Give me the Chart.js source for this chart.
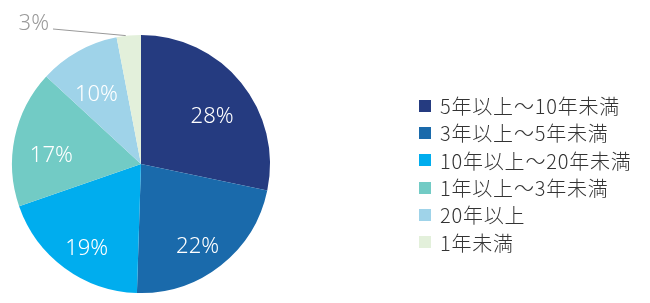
<!DOCTYPE html>
<html><head><meta charset="utf-8">
<script src="https://cdn.jsdelivr.net/npm/chart.js@4/dist/chart.umd.min.js"></script>
<style>
html,body{margin:0;padding:0;background:#fff;}
#wrap{position:relative;width:650px;height:303px;}
#legend{position:absolute;left:419px;top:92px;font-family:"Noto Sans CJK JP","Noto Sans",sans-serif;font-weight:300;font-size:20px;letter-spacing:0.8px;color:#333;}
#legend div{height:27.3px;line-height:27px;display:flex;align-items:center;white-space:nowrap;}
#legend span.box{display:inline-block;width:12px;height:12px;margin-right:9px;}
</style></head>
<body><div id="wrap"><canvas id="c" width="650" height="303"></canvas><div id="legend"></div></div>
<script>
const categories = ["5年以上～10年未満","3年以上～5年未満","10年以上～20年未満","1年以上～3年未満","20年以上","1年未満"];
const values = [28,22,19,17,10,3];
const valueLabels = ["28%","22%","19%","17%","10%","3%"];
const colors = ["#253b80","#1a6aab","#00adee","#72cbc5","#9fd3e9","#e3f0db"];

const lg = document.getElementById('legend');
categories.forEach((c,i)=>{
  const d=document.createElement('div');
  d.innerHTML='<span class="box" style="background:'+colors[i]+'"></span>'+c;
  lg.appendChild(d);
});

const labelPlugin = {
  id:'labels',
  afterDatasetsDraw(chart){
    const ctx=chart.ctx;
    const meta=chart.getDatasetMeta(0);
    ctx.save();
    ctx.font='300 22px "Noto Sans","Noto Sans CJK JP",sans-serif';
    ctx.textAlign='center';ctx.textBaseline='alphabetic';
    meta.data.forEach((arc,i)=>{
      const p=arc.getProps(['x','y','startAngle','endAngle','outerRadius'],true);
      const mid=(p.startAngle+p.endAngle)/2;
      if(i===values.length-1){
        const ex=p.x+Math.cos(mid)*p.outerRadius, ey=p.y+Math.sin(mid)*p.outerRadius;
        ctx.strokeStyle='#999';ctx.lineWidth=1;
        ctx.beginPath();ctx.moveTo(ex-3,ey);ctx.lineTo(53,29);ctx.stroke();
        ctx.fillStyle='#9a9a9a';ctx.textAlign='right';
        ctx.fillText(valueLabels[i],49,30);
      } else {
        const r=p.outerRadius*0.71;
        ctx.fillStyle='#fff';
        ctx.fillText(valueLabels[i],p.x+Math.cos(mid)*r,p.y+Math.sin(mid)*r+17);
      }
    });
    ctx.restore();
  }
};

new Chart(document.getElementById('c'),{
  type:'pie',
  data:{labels:categories,datasets:[{data:values,backgroundColor:colors,borderWidth:0}]},
  options:{
    responsive:false,animation:false,
    layout:{padding:{left:12,right:380,top:35,bottom:10}},
    plugins:{legend:{display:false},tooltip:{enabled:false}}
  },
  plugins:[labelPlugin]
});
</script></body></html>
